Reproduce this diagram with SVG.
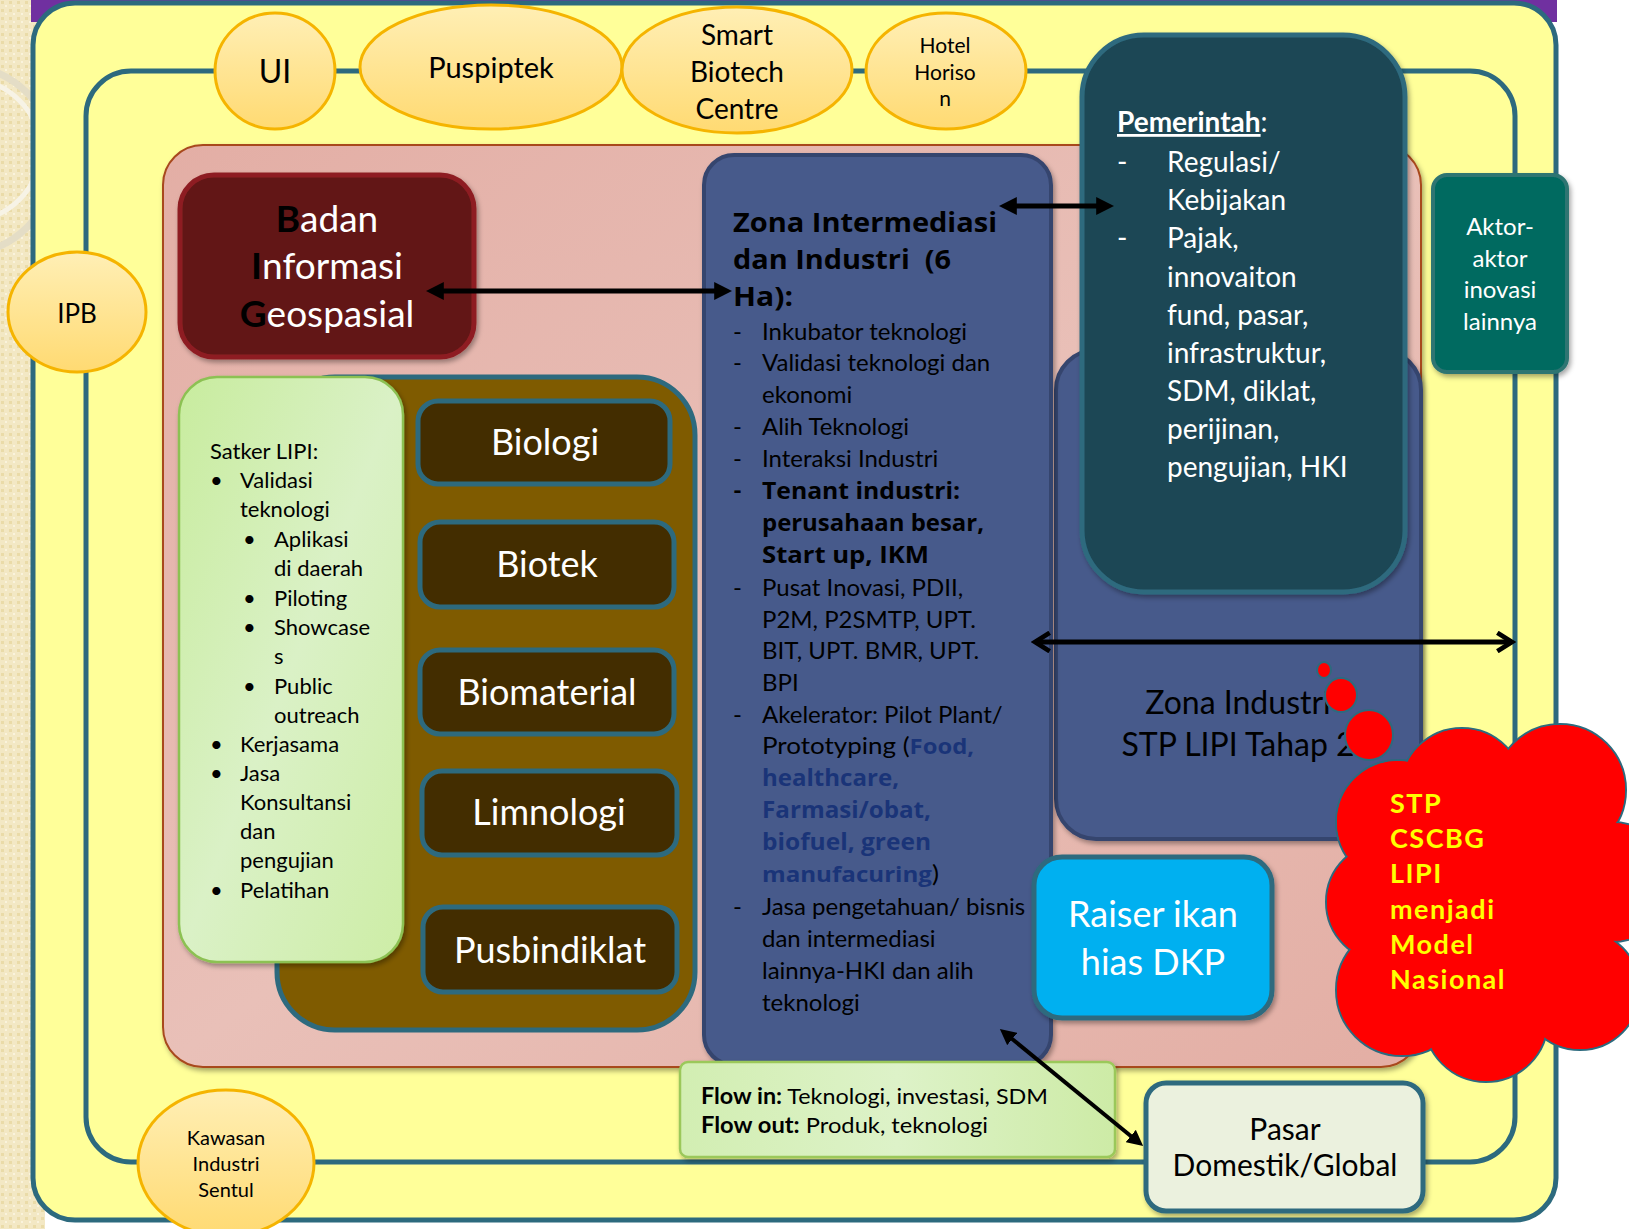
<svg xmlns="http://www.w3.org/2000/svg" width="1629" height="1229" viewBox="0 0 1629 1229">
<defs>
<style>
text { font-family: Lato, "Open Sans", "DejaVu Sans", sans-serif; }
.ell { fill: url(#gEll); stroke: #F5B400; stroke-width: 3; }
.ellT { fill: #000; text-anchor: middle; }
.dark { fill: #432D00; stroke: #2D6A7E; stroke-width: 5; }
.darkT { fill: #fff; font-size: 36px; text-anchor: middle; }
.blue { fill: #475A8B; stroke: #36456E; stroke-width: 4; }
.teal { stroke: #2D6A7E; stroke-width: 5; fill: none; }
.sat { font-size: 22px; fill: #000; }
.zl { font-size: 24px; fill: #000; }
.b { font-weight: bold; }
.ob { font-family: "Open Sans", Lato, sans-serif; font-weight: bold; }
.bb { font-family: "Open Sans", Lato, sans-serif; font-weight: bold; fill: #1A3478; }
.pem { font-size: 28px; fill: #fff; }
.cloudT { font-size: 27px; font-weight: bold; fill: #FFFF00; letter-spacing: 1.5px; }
.conn { stroke: #000; fill: none; }
</style>
<linearGradient id="gEll" x1="0" y1="0" x2="0" y2="1">
<stop offset="0" stop-color="#FFEFB5"/>
<stop offset="1" stop-color="#FFDA72"/>
</linearGradient>
<linearGradient id="gPink" x1="0" y1="0" x2="1" y2="1">
<stop offset="0" stop-color="#E3AEA5"/>
<stop offset="0.5" stop-color="#E9C0B8"/>
<stop offset="1" stop-color="#E3AEA4"/>
</linearGradient>
<linearGradient id="gGreen" x1="0" y1="0" x2="1" y2="1">
<stop offset="0" stop-color="#C8EC9E"/>
<stop offset="0.5" stop-color="#DAF1C6"/>
<stop offset="1" stop-color="#CDEDA6"/>
</linearGradient>
<linearGradient id="gFlow" x1="0" y1="0" x2="1" y2="0">
<stop offset="0" stop-color="#D2EEB2"/>
<stop offset="0.5" stop-color="#DDF2C8"/>
<stop offset="1" stop-color="#CDEBA6"/>
</linearGradient>
<pattern id="pBeige" width="8" height="8" patternUnits="userSpaceOnUse">
<rect width="8" height="8" fill="#F3E8C4"/>
<rect x="1" y="1" width="3" height="3" fill="#EADBA8"/>
<rect x="5" y="5" width="2" height="2" fill="#FAF3DC"/>
</pattern>
<filter id="sh" x="-10%" y="-10%" width="125%" height="125%">
<feDropShadow dx="2" dy="3" stdDeviation="2.5" flood-color="#000" flood-opacity="0.35"/>
</filter>
<marker id="headFill" viewBox="0 0 10 10" refX="1" refY="5" markerWidth="18" markerHeight="18" markerUnits="userSpaceOnUse" orient="auto-start-reverse">
<path d="M0,0 L10,5 L0,10 z" fill="#000"/>
</marker>
<marker id="headFillS" viewBox="0 0 10 10" refX="1" refY="5" markerWidth="16" markerHeight="16" markerUnits="userSpaceOnUse" orient="auto-start-reverse">
<path d="M0,0 L10,5 L0,10 z" fill="#000"/>
</marker>
<marker id="headOpen" viewBox="0 0 12 12" refX="10" refY="6" markerWidth="22" markerHeight="22" markerUnits="userSpaceOnUse" orient="auto-start-reverse">
<path d="M2,1 L10,6 L2,11" fill="none" stroke="#000" stroke-width="2.6" stroke-linejoin="miter"/>
</marker>
</defs>

<g id="background">
<rect x="0" y="0" width="1629" height="1229" fill="#FFFFFF"/>
<rect x="0" y="0" width="45" height="1229" fill="url(#pBeige)"/>
<circle cx="-40" cy="160" r="95" fill="none" stroke="#E4DDC6" stroke-width="7"/>
<circle cx="-30" cy="150" r="70" fill="none" stroke="#F7F3E6" stroke-width="5"/>
<rect x="31" y="0" width="1526" height="22" fill="#7030A0"/>
<rect x="33" y="3" width="1523" height="1217" rx="42" fill="#FFFF99" stroke="#2D6A7E" stroke-width="5"/>
<rect x="86" y="71" width="1429" height="1091" rx="45" class="teal"/>
</g>

<g id="zona-pink">
<rect x="163" y="145" width="1258" height="922" rx="40" fill="url(#gPink)" stroke="#A8481E" stroke-width="2" filter="url(#sh)"/>
</g>

<g id="lipi-units">
<rect x="277" y="377" width="418" height="653" rx="58" fill="#7F5B00" stroke="#2D6A7E" stroke-width="5"/>
</g>

<g id="satker-lipi">
<rect x="179" y="377" width="224" height="585" rx="38" fill="url(#gGreen)" stroke="#8CC152" stroke-width="2.5" filter="url(#sh)"/>
<text class="sat" x="210" y="459">Satker LIPI:</text>
<text class="sat" x="210" y="488">•</text><text class="sat" x="240" y="488">Validasi</text>
<text class="sat" x="240" y="517">teknologi</text>
<text class="sat" x="243" y="547">•</text><text class="sat" x="274" y="547">Aplikasi</text>
<text class="sat" x="274" y="576">di daerah</text>
<text class="sat" x="243" y="606">•</text><text class="sat" x="274" y="606">Piloting</text>
<text class="sat" x="243" y="635">•</text><text class="sat" x="274" y="635">Showcase</text>
<text class="sat" x="274" y="664">s</text>
<text class="sat" x="243" y="694">•</text><text class="sat" x="274" y="694">Public</text>
<text class="sat" x="274" y="723">outreach</text>
<text class="sat" x="210" y="752">•</text><text class="sat" x="240" y="752">Kerjasama</text>
<text class="sat" x="210" y="781">•</text><text class="sat" x="240" y="781">Jasa</text>
<text class="sat" x="240" y="810">Konsultansi</text>
<text class="sat" x="240" y="839">dan</text>
<text class="sat" x="240" y="868">pengujian</text>
<text class="sat" x="210" y="898">•</text><text class="sat" x="240" y="898">Pelatihan</text>
</g>

<g id="biologi"><rect class="dark" x="418" y="401" width="252" height="83" rx="20"/><text class="darkT" x="545" y="455">Biologi</text></g>
<g id="biotek"><rect class="dark" x="420" y="522" width="254" height="85" rx="20"/><text class="darkT" x="547" y="577">Biotek</text></g>
<g id="biomaterial"><rect class="dark" x="420" y="650" width="254" height="84" rx="20"/><text class="darkT" x="547" y="705">Biomaterial</text></g>
<g id="limnologi"><rect class="dark" x="422" y="771" width="255" height="84" rx="20"/><text class="darkT" x="549" y="825">Limnologi</text></g>
<g id="pusbindiklat"><rect class="dark" x="423" y="907" width="254" height="85" rx="20"/><text class="darkT" x="550" y="963">Pusbindiklat</text></g>

<g id="badan-informasi-geospasial">
<rect x="180" y="175" width="294" height="182" rx="34" fill="#621618" stroke="#8E1F22" stroke-width="5" filter="url(#sh)"/>
<text x="327" y="232" font-size="37" text-anchor="middle" fill="#fff"><tspan font-weight="bold" fill="#000">B</tspan>adan</text>
<text x="327" y="279" font-size="37" text-anchor="middle" fill="#fff"><tspan font-weight="bold" fill="#000">I</tspan>nformasi</text>
<text x="327" y="327" font-size="37" text-anchor="middle" fill="#fff"><tspan font-weight="bold" fill="#000">G</tspan>eospasial</text>
</g>

<g id="zona-industri-tahap2">
<rect class="blue" x="1056" y="350" width="365" height="489" rx="40" filter="url(#sh)"/>
<text x="1238" y="714" font-size="32" text-anchor="middle" fill="#000">Zona Industri</text>
<text x="1238" y="756" font-size="32" text-anchor="middle" fill="#000">STP LIPI Tahap 2</text>
</g>

<g id="zona-intermediasi">
<rect class="blue" x="704" y="155" width="347" height="910" rx="30" filter="url(#sh)"/>
<text class="ob" x="733" y="232" font-size="26" fill="#000" textLength="264" lengthAdjust="spacingAndGlyphs">Zona Intermediasi</text>
<text class="ob" x="733" y="269" font-size="26" fill="#000" xml:space="preserve" textLength="218" lengthAdjust="spacingAndGlyphs">dan Industri  (6</text>
<text class="ob" x="733" y="306" font-size="26" fill="#000" textLength="60" lengthAdjust="spacingAndGlyphs">Ha):</text>
<text class="zl" x="733" y="340">-</text><text class="zl" x="762" y="340">Inkubator teknologi</text>
<text class="zl" x="733" y="371">-</text><text class="zl" x="762" y="371">Validasi teknologi dan</text>
<text class="zl" x="762" y="403">ekonomi</text>
<text class="zl" x="733" y="435">-</text><text class="zl" x="762" y="435">Alih Teknologi</text>
<text class="zl" x="733" y="467">-</text><text class="zl" x="762" y="467">Interaksi Industri</text>
<text class="zl b" x="733" y="499">-</text><text class="zl ob" x="762" y="499" font-size="22" textLength="198" lengthAdjust="spacingAndGlyphs">Tenant industri:</text>
<text class="zl ob" x="762" y="531" font-size="22" textLength="222" lengthAdjust="spacingAndGlyphs">perusahaan besar,</text>
<text class="zl ob" x="762" y="563" font-size="22" textLength="167" lengthAdjust="spacingAndGlyphs">Start up, IKM</text>
<text class="zl" x="733" y="596">-</text><text class="zl" x="762" y="596">Pusat Inovasi, PDII,</text>
<text class="zl" x="762" y="628">P2M, P2SMTP, UPT.</text>
<text class="zl" x="762" y="659">BIT, UPT. BMR, UPT.</text>
<text class="zl" x="762" y="691">BPI</text>
<text class="zl" x="733" y="723">-</text><text class="zl" x="762" y="723">Akelerator: Pilot Plant/</text>
<text class="zl" x="762" y="754" textLength="212" lengthAdjust="spacingAndGlyphs">Prototyping (<tspan class="bb" font-size="22">Food,</tspan></text>
<text class="zl bb" x="762" y="786" font-size="22" textLength="137" lengthAdjust="spacingAndGlyphs">healthcare,</text>
<text class="zl bb" x="762" y="818" font-size="22" textLength="169" lengthAdjust="spacingAndGlyphs">Farmasi/obat,</text>
<text class="zl bb" x="762" y="850" font-size="22" textLength="169" lengthAdjust="spacingAndGlyphs">biofuel, green</text>
<text class="zl" x="762" y="882" textLength="177" lengthAdjust="spacingAndGlyphs"><tspan class="bb" font-size="22">manufacuring</tspan>)</text>
<text class="zl" x="733" y="915">-</text><text class="zl" x="762" y="915">Jasa pengetahuan/ bisnis</text>
<text class="zl" x="762" y="947">dan intermediasi</text>
<text class="zl" x="762" y="979">lainnya-HKI dan alih</text>
<text class="zl" x="762" y="1011">teknologi</text>
</g>

<g id="pemerintah">
<rect x="1082" y="35" width="323" height="557" rx="62" fill="#1E4654" stroke="#2D6A7E" stroke-width="5" filter="url(#sh)"/>
<text class="pem" x="1117" y="132"><tspan font-weight="bold" text-decoration="underline">Pemerintah</tspan>:</text>
<text class="pem" x="1117" y="172">-</text><text class="pem" x="1167" y="172">Regulasi/</text>
<text class="pem" x="1167" y="210">Kebijakan</text>
<text class="pem" x="1117" y="248">-</text><text class="pem" x="1167" y="248">Pajak,</text>
<text class="pem" x="1167" y="287">innovaiton</text>
<text class="pem" x="1167" y="325">fund, pasar,</text>
<text class="pem" x="1167" y="363">infrastruktur,</text>
<text class="pem" x="1167" y="401">SDM, diklat,</text>
<text class="pem" x="1167" y="439">perijinan,</text>
<text class="pem" x="1167" y="477">pengujian, HKI</text>
</g>

<g id="aktor-inovasi">
<rect x="1433" y="175" width="134" height="197" rx="14" fill="#006A61" stroke="#2D7472" stroke-width="4" filter="url(#sh)"/>
<text x="1500" y="235" font-size="24" text-anchor="middle" fill="#fff">Aktor-</text>
<text x="1500" y="267" font-size="24" text-anchor="middle" fill="#fff">aktor</text>
<text x="1500" y="298" font-size="24" text-anchor="middle" fill="#fff">inovasi</text>
<text x="1500" y="330" font-size="24" text-anchor="middle" fill="#fff">lainnya</text>
</g>

<g id="raiser-ikan-hias">
<rect x="1034" y="857" width="238" height="161" rx="28" fill="#00B0F0" stroke="#2D6A7E" stroke-width="5" filter="url(#sh)"/>
<text x="1153" y="927" font-size="36" text-anchor="middle" fill="#fff">Raiser ikan</text>
<text x="1153" y="975" font-size="36" text-anchor="middle" fill="#fff">hias DKP</text>
</g>

<g id="flow">
<rect x="680" y="1062" width="435" height="95" rx="8" fill="url(#gFlow)" stroke="#9BC85A" stroke-width="2.5" filter="url(#sh)"/>
<text x="701" y="1104" font-size="22" fill="#000" textLength="347" lengthAdjust="spacingAndGlyphs"><tspan font-weight="bold">Flow in:</tspan> Teknologi, investasi, SDM</text>
<text x="701" y="1133" font-size="22" fill="#000" textLength="287" lengthAdjust="spacingAndGlyphs"><tspan font-weight="bold">Flow out:</tspan> Produk, teknologi</text>
</g>

<g id="pasar">
<rect x="1146" y="1083" width="277" height="128" rx="20" fill="#EBF1DE" stroke="#2D6A7E" stroke-width="5" filter="url(#sh)"/>
<text x="1285" y="1140" font-size="30" text-anchor="middle" fill="#000">Pasar</text>
<text x="1285" y="1176" font-size="30" text-anchor="middle" fill="#000">Domestik/Global</text>
</g>

<g id="ui"><ellipse class="ell" cx="275" cy="71" rx="60" ry="58"/><text class="ellT" x="275" y="83" font-size="32">UI</text></g>
<g id="puspiptek"><ellipse class="ell" cx="491" cy="67" rx="131" ry="62"/><text class="ellT" x="491" y="78" font-size="29">Puspiptek</text></g>
<g id="smart-biotech-centre"><ellipse class="ell" cx="737" cy="70" rx="115" ry="63"/>
<text class="ellT" x="737" y="45" font-size="28">Smart</text>
<text class="ellT" x="737" y="82" font-size="28">Biotech</text>
<text class="ellT" x="737" y="119" font-size="28">Centre</text></g>
<g id="hotel-horison"><ellipse class="ell" cx="946" cy="71" rx="80" ry="58"/>
<text class="ellT" x="945" y="53" font-size="21">Hotel</text>
<text class="ellT" x="945" y="80" font-size="21">Horiso</text>
<text class="ellT" x="945" y="106" font-size="21">n</text></g>
<g id="ipb"><ellipse class="ell" cx="77" cy="312" rx="69" ry="60"/><text class="ellT" x="77" y="323" font-size="26">IPB</text></g>
<g id="kawasan-industri-sentul"><ellipse class="ell" cx="226" cy="1163" rx="88" ry="73"/>
<text class="ellT" x="226" y="1145" font-size="20">Kawasan</text>
<text class="ellT" x="226" y="1171" font-size="20">Industri</text>
<text class="ellT" x="226" y="1197" font-size="20">Sentul</text></g>

<g id="connectors">
<line class="conn" x1="442" y1="291" x2="716" y2="291" stroke-width="5" marker-start="url(#headFill)" marker-end="url(#headFill)"/>
<line class="conn" x1="1015" y1="206" x2="1098" y2="206" stroke-width="5" marker-start="url(#headFill)" marker-end="url(#headFill)"/>
<line class="conn" x1="1035" y1="642" x2="1512" y2="642" stroke-width="5" marker-start="url(#headOpen)" marker-end="url(#headOpen)"/>
<line class="conn" x1="1011" y1="1038" x2="1132" y2="1137" stroke-width="4" marker-start="url(#headFillS)" marker-end="url(#headFillS)"/>
</g>

<g id="stp-cscbg-cloud">
<g fill="#FF0000" stroke="#2D6A7E" stroke-width="2">
<ellipse cx="1324" cy="670" rx="7" ry="8"/>
<ellipse cx="1341" cy="695" rx="16" ry="17"/>
<ellipse cx="1369" cy="735" rx="24" ry="25"/>
<circle cx="1398" cy="822" r="62"/>
<circle cx="1462" cy="790" r="62"/>
<circle cx="1560" cy="790" r="66"/>
<circle cx="1612" cy="882" r="60"/>
<circle cx="1386" cy="902" r="60"/>
<circle cx="1402" cy="990" r="66"/>
<circle cx="1486" cy="1020" r="62"/>
<circle cx="1580" cy="990" r="60"/>
</g>
<g fill="#FF0000">
<circle cx="1398" cy="822" r="61"/>
<circle cx="1462" cy="790" r="61"/>
<circle cx="1560" cy="790" r="65"/>
<circle cx="1612" cy="882" r="59"/>
<circle cx="1386" cy="902" r="59"/>
<circle cx="1402" cy="990" r="65"/>
<circle cx="1486" cy="1020" r="61"/>
<circle cx="1580" cy="990" r="59"/>
<circle cx="1490" cy="900" r="115"/>
</g>
<text class="cloudT" x="1390" y="813">STP</text>
<text class="cloudT" x="1390" y="848">CSCBG</text>
<text class="cloudT" x="1390" y="883">LIPI</text>
<text class="cloudT" x="1390" y="919">menjadi</text>
<text class="cloudT" x="1390" y="954">Model</text>
<text class="cloudT" x="1390" y="989">Nasional</text>
</g>
</svg>
